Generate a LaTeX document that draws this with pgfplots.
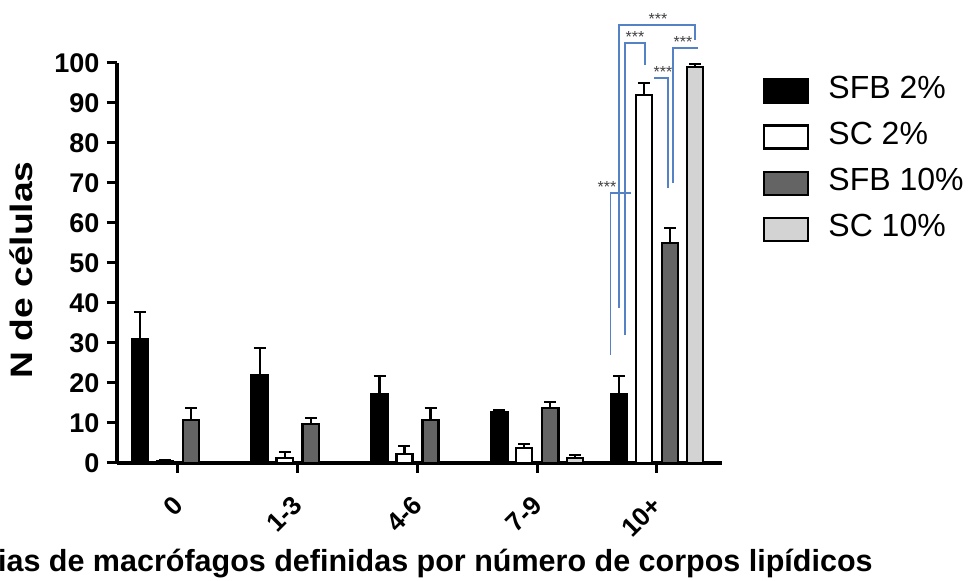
\documentclass[border=0pt]{standalone}
\usepackage{fontspec}
\setmainfont{Liberation Sans}
\newfontfamily\ylabfont[FakeStretch=1.2]{Liberation Sans}
\usepackage{pgfplots}
\pgfplotsset{compat=1.18}
\definecolor{dgray}{RGB}{100,100,100}
\definecolor{lgray}{RGB}{211,211,211}
\definecolor{sigblue}{RGB}{84,130,196}
\begin{document}
\begin{tikzpicture}
\begin{axis}[
  scale only axis, width=302.5pt, height=200pt,
  xmin=-0.509, xmax=4.543, ymin=0, ymax=100,
  axis lines=left,
  axis line style={-, line width=1.6pt, black},
  clip=false,
  /pgf/number format/assume math mode=true,
  ytick={0,10,...,100},
  xtick={0,1,2,3,4},
  xticklabels={0,1-3,4-6,7-9,10+},
  tick align=outside,
  major tick length=5pt,
  tick style={line width=1.5pt, black},
  yticklabel style={font=\fontsize{13.5}{15}\selectfont\bfseries, anchor=east, xshift=-0.3pt},
  xticklabel style={font=\fontsize{13}{15}\selectfont\bfseries, xshift=2.5pt, yshift=-11.5pt, rotate=45, anchor=east},
  ylabel={N de células},
  ylabel style={font=\ylabfont\fontsize{15.5}{18}\selectfont\bfseries, anchor=center, at={(rel axis cs:-0.1587,0.4825)}},
  xlabel={Categorias de macrófagos definidas por número de corpos lipídicos},
  xlabel style={font=\fontsize{15.25}{18}\selectfont\bfseries, anchor=base east, inner sep=0pt, at={(rel axis cs:1.2496,0)}, yshift=-54.5pt},
  ybar, bar width=0.135,
  every axis plot/.append style={draw=black, line width=1.2pt},
  error bars/y dir=plus, error bars/y explicit,
  error bars/error bar style={line width=1.1pt, black},
  error bars/error mark options={rotate=90, line width=1.1pt, mark size=3pt, black},
  legend image code/.code={\draw[#1, line width=1.2pt] (0pt,-2pt) rectangle (22pt,9.5pt);},
  legend style={at={(rel axis cs:1.0678,0.962)}, anchor=north west, draw=none, fill=none,
    inner sep=0pt, outer sep=0pt, font=\fontsize{16}{18}\selectfont,
    nodes={inner sep=0pt, text height=9.5pt, text depth=2pt, anchor=base west},
    /tikz/every odd column/.style={column sep=9.5pt}, row sep=10.4pt},
  legend cell align=left,
]
\addplot[fill=black, bar shift=-0.317] coordinates {
  (0,31.0) +- (0,6.8)
  (1,22.0) +- (0,6.8)
  (2,17.3) +- (0,4.5)
  (3,12.8) +- (0,0.3)
  (4,17.3) +- (0,4.5)
};
\addlegendentry{SFB 2\%}
\addplot[fill=white, bar shift=-0.109] coordinates {
  (0,0.5) +- (0,0.1)
  (1,1.2) +- (0,1.5)
  (2,2.3) +- (0,2.0)
  (3,3.8) +- (0,1.0)
  (4,92.0) +- (0,3.0)
};
\addlegendentry{SC 2\%}
\addplot[fill=dgray, bar shift=0.109] coordinates {
  (0,10.8) +- (0,3.0)
  (1,9.8) +- (0,1.5)
  (2,10.8) +- (0,3.0)
  (3,13.8) +- (0,1.5)
  (4,55.0) +- (0,3.8)
};
\addlegendentry{SFB 10\%}
\addplot[fill=lgray, bar shift=0.317] coordinates {
  (3,1.3) +- (0,0.6)
  (4,99.0) +- (0,0.7)
};
\addlegendentry{SC 10\%}
% significance brackets
\draw[sigblue, line width=0.75pt] (axis cs:3.683,38.75) |- (axis cs:4.317,109.5) -- (axis cs:4.317,105.75);
\draw[sigblue, line width=0.75pt] (axis cs:3.733,32) |- (axis cs:3.900,105) -- (axis cs:3.900,99.5);
\draw[sigblue, line width=0.75pt] (axis cs:4.134,70) |- (axis cs:4.342,103.75);
\draw[sigblue, line width=0.75pt] (axis cs:3.975,96.25) -| (axis cs:4.092,68.75);
\draw[sigblue, line width=0.75pt] (axis cs:3.612,27) |- (axis cs:3.779,67.5);
\begin{scope}[every node/.style={anchor=base, inner sep=0pt, font=\fontsize{8}{9}\selectfont, text=black!75}]
\node at (axis cs:4.008,109.5) {***};
\node at (axis cs:3.816,105) {***};
\node at (axis cs:4.217,103.75) {***};
\node at (axis cs:4.050,96.25) {***};
\node at (axis cs:3.583,67.5) {***};
\end{scope}
\end{axis}
\pgfresetboundingbox
\path[use as bounding box] (-58.5pt,-59pt) rectangle (427.5pt,231.5pt);
\end{tikzpicture}
\end{document}
